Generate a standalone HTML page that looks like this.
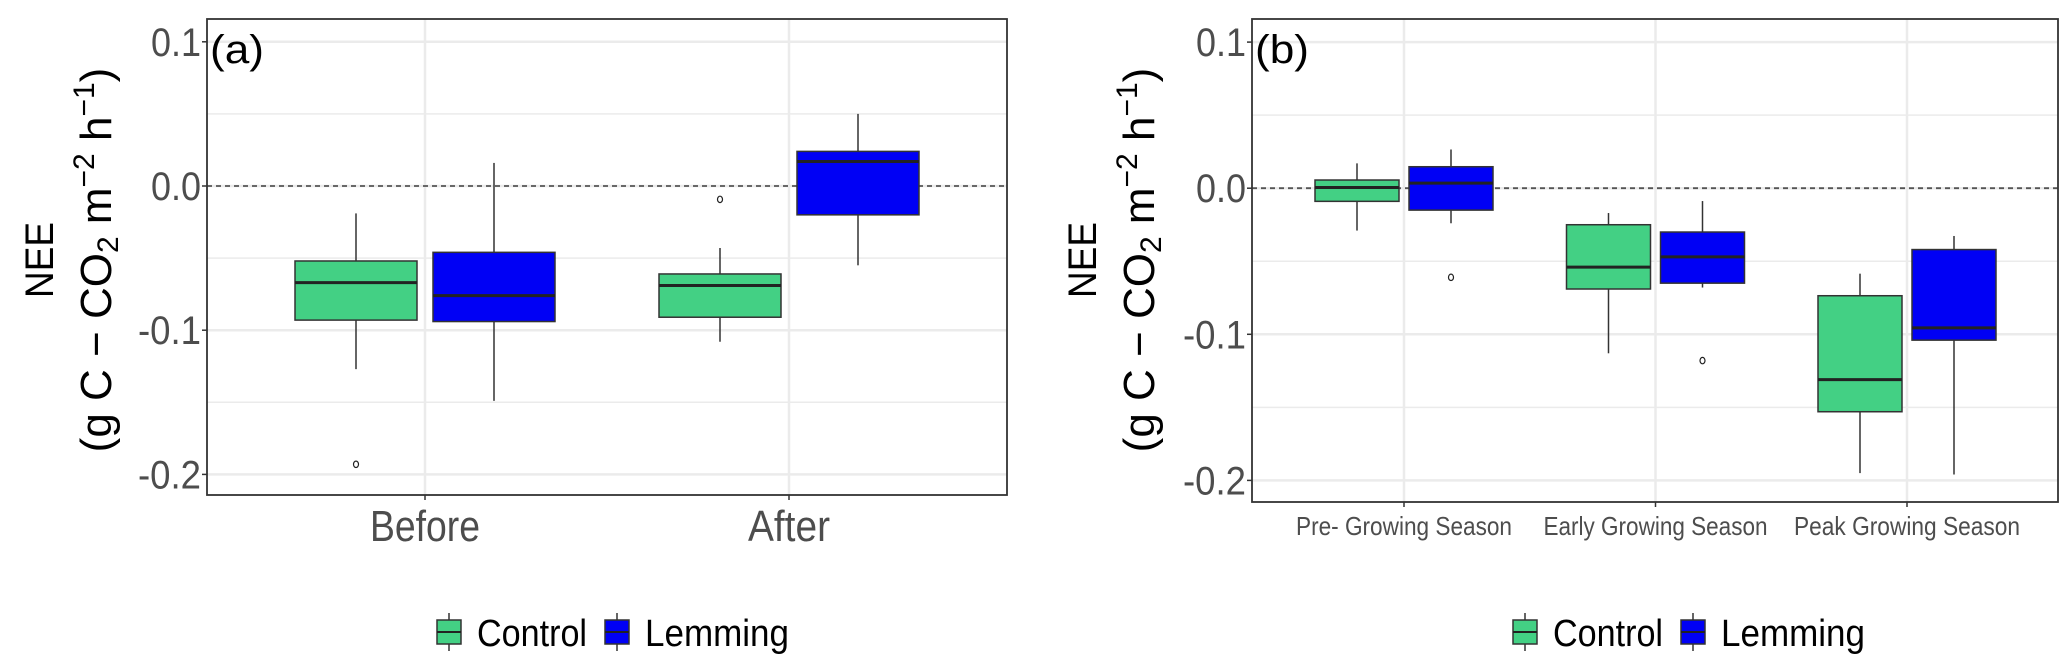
<!DOCTYPE html>
<html><head><meta charset="utf-8"><style>
body{margin:0;background:#fff;}
svg{display:block;font-family:"Liberation Sans",sans-serif;}
</style></head><body>
<svg id="chart" width="2067" height="666"></svg>
<script>
const panelACategories = ["Before", "After"];
const panelAControl = [
  {lo:-0.127, q1:-0.093, med:-0.067, q3:-0.052, hi:-0.019, out:[-0.193]},
  {lo:-0.108, q1:-0.091, med:-0.069, q3:-0.061, hi:-0.043, out:[-0.0093]}
];
const panelALemming = [
  {lo:-0.149, q1:-0.094, med:-0.076, q3:-0.046, hi:0.016, out:[]},
  {lo:-0.055, q1:-0.020, med:0.017, q3:0.024, hi:0.050, out:[]}
];
const panelBCategories = ["Pre- Growing Season", "Early Growing Season", "Peak Growing Season"];
const panelBControl = [
  {lo:-0.029, q1:-0.009, med:0.0005, q3:0.0056, hi:0.017, out:[]},
  {lo:-0.113, q1:-0.069, med:-0.054, q3:-0.025, hi:-0.017, out:[]},
  {lo:-0.195, q1:-0.153, med:-0.131, q3:-0.0736, hi:-0.0585, out:[]}
];
const panelBLemming = [
  {lo:-0.024, q1:-0.015, med:0.0035, q3:0.0147, hi:0.0265, out:[-0.061]},
  {lo:-0.068, q1:-0.065, med:-0.047, q3:-0.030, hi:-0.0088, out:[-0.118]},
  {lo:-0.196, q1:-0.104, med:-0.0956, q3:-0.042, hi:-0.0327, out:[]}
];
const yTicks = [0.1, 0.0, -0.1, -0.2];
const yTickLabels = ["0.1", "0.0", "-0.1", "-0.2"];
const yMinor = [0.05, -0.05, -0.15];

const NS = "http://www.w3.org/2000/svg";
const svg = document.getElementById("chart");
function mk(tag, attrs, parent, text){
  const e = document.createElementNS(NS, tag);
  for (const k in attrs) e.setAttribute(k, attrs[k]);
  if (text !== undefined) e.textContent = text;
  (parent || svg).appendChild(e);
  return e;
}

function panel(cfg){
  const g = mk("g", {});
  
  
  const y = v => cfg.y0 - v * cfg.k;
  const x = i => cfg.cx0 + i * cfg.step;
  yMinor.forEach(v => {
    const l = mk("line", {x1:cfg.L, x2:cfg.R, y1:y(v), y2:y(v), stroke:"#ebebeb", "stroke-width":1.5}, g);
    
    
  });
  yTicks.forEach(v => {
    const l = mk("line", {x1:cfg.L, x2:cfg.R, y1:y(v), y2:y(v), stroke:"#ebebeb", "stroke-width":2.5}, g);
    
    
  });
  cfg.cats.forEach((c, i) => {
    const l = mk("line", {x1:x(i), x2:x(i), y1:cfg.T, y2:cfg.B, stroke:"#ebebeb", "stroke-width":2.5}, g);
    
    
  });
  const z = mk("line", {x1:cfg.L, x2:cfg.R, y1:y(0), y2:y(0), stroke:"#555", "stroke-width":1.8, "stroke-dasharray":"5,4"}, g);
  
  
  const series = [[cfg.control, "#43d084", -1, "control"], [cfg.lemming, "#0000f5", 1, "lemming"]];
  series.forEach(([data, col, sgn, nm]) => {
    data.forEach((d, i) => {
      const cx = x(i) + sgn * cfg.off;
      const bg = mk("g", {}, g);
      
      
      mk("line", {x1:cx, x2:cx, y1:y(d.hi), y2:y(d.q3), stroke:"#333", "stroke-width":1.5}, bg);
      mk("line", {x1:cx, x2:cx, y1:y(d.q1), y2:y(d.lo), stroke:"#333", "stroke-width":1.5}, bg);
      mk("rect", {x:cx - cfg.w/2, y:y(d.q3), width:cfg.w, height:y(d.q1) - y(d.q3), fill:col, stroke:"#333", "stroke-width":1.5}, bg);
      mk("line", {x1:cx - cfg.w/2, x2:cx + cfg.w/2, y1:y(d.med), y2:y(d.med), stroke:"#222", "stroke-width":3}, bg);
      d.out.forEach(o => {
        const c = mk("ellipse", {cx:cx, cy:y(o), rx:2.5, ry:3.2, fill:"none", stroke:"#222", "stroke-width":1.2}, bg);
        
        
      });
    });
  });
  const b = mk("rect", {x:cfg.L, y:cfg.T, width:cfg.R - cfg.L, height:cfg.B - cfg.T, fill:"none", stroke:"#333", "stroke-width":1.8}, g);
  
  
  yTicks.forEach((v, i) => {
    mk("line", {x1:cfg.L - 5, x2:cfg.L, y1:y(v), y2:y(v), stroke:"#333", "stroke-width":1.5}, g);
    const t = mk("text", {x:cfg.L - 6, y:y(v) + 14, "text-anchor":"end", "font-size":40, fill:"#4d4d4d", textLength: yTickLabels[i].length === 3 ? 50 : 63, lengthAdjust:"spacingAndGlyphs"}, g, yTickLabels[i]);
    
    
  });
  cfg.cats.forEach((c, i) => {
    mk("line", {x1:x(i), x2:x(i), y1:cfg.B, y2:cfg.B + 5, stroke:"#333", "stroke-width":1.5}, g);
    const t = mk("text", {x:x(i), y:cfg.xLabY, "text-anchor":"middle", "font-size":cfg.xFont, fill:"#4d4d4d", textLength: cfg.xLens[i], lengthAdjust:"spacingAndGlyphs"}, g, c);
    
    
  });
  const tag = mk("text", {x:cfg.L + 3, y:cfg.T + 44, "font-size":40, fill:"#000", textLength:54, lengthAdjust:"spacingAndGlyphs"}, g, cfg.tag);
  
  
  const yt = mk("text", {transform:`translate(${cfg.titleX},260) rotate(-90)`, "text-anchor":"middle", "font-size":40, fill:"#000"}, g);
  
  
  mk("tspan", {x:0, dy:0, textLength:76, lengthAdjust:"spacingAndGlyphs"}, yt, "NEE");
  const yt2 = mk("text", {transform:`translate(${cfg.titleX + 58},260) rotate(-90)`, "text-anchor":"middle", "font-size":44, fill:"#000"}, g);
  
  
  mk("tspan", {}, yt2, "(g C \u2212 CO");
  mk("tspan", {"font-size":30, dy:7}, yt2, "2");
  mk("tspan", {dy:-7}, yt2, " m");
  mk("tspan", {"font-size":30, dy:-17}, yt2, "\u22122");
  mk("tspan", {dy:17}, yt2, " h");
  mk("tspan", {"font-size":30, dy:-17}, yt2, "\u22121");
  mk("tspan", {dy:17}, yt2, ")");
  const lg = mk("g", {}, g);
  
  
  [["Control", "#43d084", cfg.legX], ["Lemming", "#0000f5", cfg.legX + 168]].forEach(([n, col, lx]) => {
    const e = mk("g", {}, lg);
    
    
    mk("line", {x1:lx + 12, x2:lx + 12, y1:613, y2:651, stroke:"#333", "stroke-width":1.5}, e);
    mk("rect", {x:lx, y:620, width:24, height:24, fill:col, stroke:"#333", "stroke-width":1.5}, e);
    mk("line", {x1:lx, x2:lx + 24, y1:632, y2:632, stroke:"#222", "stroke-width":2}, e);
    mk("text", {x:lx + 40, y:646, "font-size":38, fill:"#000", textLength: n === "Control" ? 110 : 144, lengthAdjust:"spacingAndGlyphs"}, e, n);
  });
}

panel({name:"panel-a", tag:"(a)", L:207, R:1007, T:19, B:495, y0:186, k:1442,
  cx0:425, step:364, off:69, w:122, cats:panelACategories, control:panelAControl, lemming:panelALemming,
  xLabY:541, xFont:44, xLens:[110, 82], titleX:53, legX:437});
panel({name:"panel-b", tag:"(b)", L:1252, R:2058, T:19, B:502, y0:188.2, k:1461,
  cx0:1404, step:251.5, off:47, w:84, cats:panelBCategories, control:panelBControl, lemming:panelBLemming,
  xLabY:535, xFont:26, xLens:[216, 224, 226], titleX:1096, legX:1513});
</script>
</body></html>
